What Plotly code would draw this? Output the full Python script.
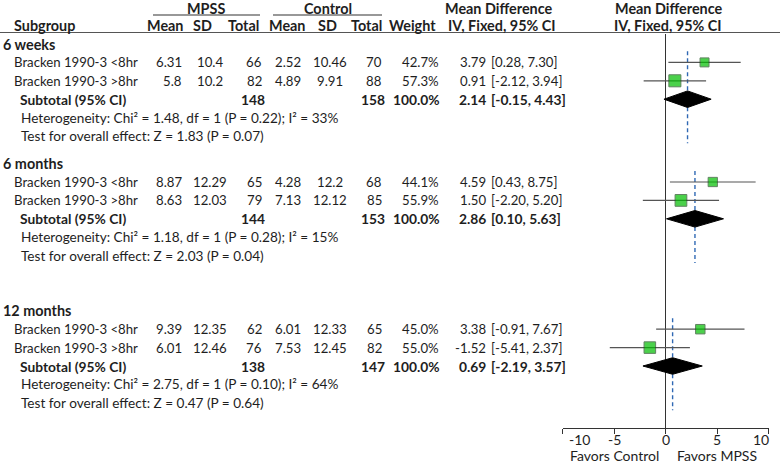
import plotly.graph_objects as go

# 数据
subgroups = ['6 weeks', '6 months', '12 months']
studies = ['Bracken 1990-3 <8hr', 'Bracken 1990-3 >8hr']
mpss_mean = [[6.31, 5.8], [8.87, 8.63], [9.39, 6.01]]
mpss_sd = [[10.4, 10.2], [12.29, 12.03], [12.35, 12.46]]
mpss_n = [[66, 82], [65, 79], [62, 76]]
ctrl_mean = [[2.52, 4.89], [4.28, 7.13], [6.01, 7.53]]
ctrl_sd = [[10.46, 9.91], [12.2, 12.12], [12.33, 12.45]]
ctrl_n = [[70, 88], [68, 85], [65, 82]]
weights = [[42.7, 57.3], [44.1, 55.9], [45.0, 55.0]]
md = [[3.79, 0.91], [4.59, 1.50], [3.38, -1.52]]
md_lo = [[0.28, -2.12], [0.43, -2.20], [-0.91, -5.41]]
md_hi = [[7.30, 3.94], [8.75, 5.20], [7.67, 2.37]]
sub_md = [2.14, 2.86, 0.69]
sub_lo = [-0.15, 0.10, -2.19]
sub_hi = [4.43, 5.63, 3.57]
chi2 = [1.48, 1.18, 2.75]
het_df = [1, 1, 1]
het_p = ['0.22', '0.28', '0.10']
i2 = [33, 15, 64]
z_val = [1.83, 2.03, 0.47]
z_p = ['0.07', '0.04', '0.64']
x_ticks = [-10, -5, 0, 5, 10]

# 布局
W, H = 780, 464
FONT = 'Lato'
TXT = '#1e1e1e'
FS = 13.2      # 正文
FSB = 13.8     # 粗体正文
FSH = 14.4     # 表头
group_start = [0, 6.5, 14.5]   # 每个亚组标题所在行
Y_TOP, Y_BOT = 34, 428          # 绘图区像素范围
ROW_PX, ROW0_PX = 18.4, 44


def px_to_row(p):
    return (p - ROW0_PX) / ROW_PX


def px(x):
    return x / W


fig = go.Figure()
ann = []


def text(x, y, s, anchor='left', bold=False, yref='y', size=FS):
    if bold:
        s = f'<b>{s}</b>'
    ann.append(dict(x=px(x), y=y, xref='paper', yref=yref, text=s, showarrow=False,
                    xanchor=anchor, yanchor='middle',
                    font=dict(family=FONT, size=size, color=TXT)))


# 表头
hy1, hy2 = 1 - 8 / H, 1 - 25 / H
text(206, hy1, 'MPSS', 'center', True, 'paper', FSH)
text(328, hy1, 'Control', 'center', True, 'paper', FSH)
text(499, hy1, 'Mean Difference', 'center', True, 'paper', FSH)
text(669, hy1, 'Mean Difference', 'center', True, 'paper', FSH)
text(12, hy2, 'Subgroup', 'left', True, 'paper', FSH)
text(185, hy2, 'Mean', 'right', True, 'paper', FSH)
text(214, hy2, 'SD', 'right', True, 'paper', FSH)
text(261, hy2, 'Total', 'right', True, 'paper', FSH)
text(307, hy2, 'Mean', 'right', True, 'paper', FSH)
text(339, hy2, 'SD', 'right', True, 'paper', FSH)
text(384, hy2, 'Total', 'right', True, 'paper', FSH)
text(438, hy2, 'Weight', 'right', True, 'paper', FSH)
text(502, hy2, 'IV, Fixed, 95% CI', 'center', True, 'paper', FSH)
text(668, hy2, 'IV, Fixed, 95% CI', 'center', True, 'paper', FSH)

shapes = [
    dict(type='line', xref='paper', yref='paper', x0=0, x1=1, y0=1 - 32.5 / H, y1=1 - 32.5 / H,
         line=dict(color='#555555', width=1.2)),
    dict(type='line', xref='paper', yref='paper', x0=px(153), x1=px(260), y0=1 - 15 / H, y1=1 - 15 / H,
         line=dict(color='#333333', width=1.2)),
    dict(type='line', xref='paper', yref='paper', x0=px(273), x1=px(382), y0=1 - 15 / H, y1=1 - 15 / H,
         line=dict(color='#333333', width=1.2)),
]

ci_x, ci_y = [], []
sq_x, sq_y, sq_s = [], [], []

for g, name in enumerate(subgroups):
    y0 = group_start[g]
    text(1, y0, name, 'left', True, size=FSH)
    for i, st in enumerate(studies):
        y = y0 + 1 + i
        text(12, y, st)
        text(184, y, str(mpss_mean[g][i]), 'right')
        text(210, y, str(mpss_sd[g][i]), 'center')
        text(264, y, str(mpss_n[g][i]), 'right')
        text(303, y, str(ctrl_mean[g][i]), 'right')
        text(330, y, str(ctrl_sd[g][i]), 'center')
        text(384, y, str(ctrl_n[g][i]), 'right')
        text(441, y, f'{weights[g][i]:.1f}%', 'right')
        text(488, y, f'{md[g][i]:.2f}', 'right')
        text(489, y, f'[{md_lo[g][i]:.2f}, {md_hi[g][i]:.2f}]', 'left')
        ci_x += [md_lo[g][i], md_hi[g][i], None]
        ci_y += [y, y, None]
        sq_x.append(md[g][i])
        sq_y.append(y)
        sq_s.append(weights[g][i] * 0.21)
    ys = y0 + 3
    text(18, ys, 'Subtotal (95% CI)', 'left', True, size=FSB)
    text(267, ys, str(sum(mpss_n[g])), 'right', True, size=FSB)
    text(387, ys, str(sum(ctrl_n[g])), 'right', True, size=FSB)
    text(442, ys, '100.0%', 'right', True, size=FSB)
    text(488, ys, f'{sub_md[g]:.2f}', 'right', True, size=FSB)
    text(489, ys, f'[{sub_lo[g]:.2f}, {sub_hi[g]:.2f}]', 'left', True, size=FSB)
    text(19, y0 + 4, f'Heterogeneity: Chi² = {chi2[g]:.2f}, df = {het_df[g]} (P = {het_p[g]}); I² = {i2[g]}%',
         size=13.6)
    text(19, y0 + 5, f'Test for overall effect: Z = {z_val[g]:.2f} (P = {z_p[g]})', size=13.6)

    # 合并效应虚线
    fig.add_trace(go.Scatter(x=[sub_md[g], sub_md[g]], y=[y0 + 0.4, y0 + 5.4], mode='lines',
                             line=dict(color='#2F68B4', width=1.4, dash='4px,3px'),
                             hoverinfo='skip', showlegend=False))
    # 菱形
    h = 0.45
    fig.add_trace(go.Scatter(x=[sub_lo[g], sub_md[g], sub_hi[g], sub_md[g], sub_lo[g]],
                             y=[ys, ys - h, ys, ys + h, ys], mode='lines', fill='toself',
                             fillcolor='black', line=dict(color='black', width=1),
                             hoverinfo='skip', showlegend=False))

fig.add_trace(go.Scatter(x=ci_x, y=ci_y, mode='lines', line=dict(color='#555555', width=1.2),
                         hoverinfo='skip', showlegend=False))
fig.add_trace(go.Scatter(x=sq_x, y=sq_y, mode='markers',
                         marker=dict(symbol='square', size=sq_s, color='#00BE00',
                                     line=dict(color='#1f4f1f', width=1)),
                         hoverinfo='skip', showlegend=False))

# 刻度标签与底部说明
for t in x_ticks:
    anchor, shift = 'center', 0
    if t == x_ticks[0]:
        anchor, shift = 'left', 4
    elif t == x_ticks[-1]:
        anchor, shift = 'right', 2
    ann.append(dict(x=t, y=1 - 439 / H, xref='x', yref='paper', text=str(t), showarrow=False,
                    xanchor=anchor, xshift=shift, yanchor='middle',
                    font=dict(family=FONT, size=14, color=TXT)))
ann.append(dict(x=-5, y=1 - 455 / H, xref='x', yref='paper', text='Favors Control', showarrow=False,
                xanchor='center', yanchor='middle', font=dict(family=FONT, size=14, color=TXT)))
ann.append(dict(x=5, y=1 - 455 / H, xref='x', yref='paper', text='Favors MPSS', showarrow=False,
                xanchor='center', yanchor='middle', font=dict(family=FONT, size=14, color=TXT)))

fig.update_layout(
    width=W, height=H,
    margin=dict(l=0, r=0, t=0, b=0),
    paper_bgcolor='white', plot_bgcolor='white',
    annotations=ann, shapes=shapes,
    xaxis=dict(domain=[px(562.5), px(768.5)], range=[-10, 10], tickvals=x_ticks,
               showticklabels=False, ticks='outside', ticklen=5, tickcolor='#333333',
               showline=True, linecolor='#333333', linewidth=1.2,
               showgrid=False, zeroline=True, zerolinecolor='#333333', zerolinewidth=1.2),
    yaxis=dict(domain=[1 - Y_BOT / H, 1 - Y_TOP / H],
               range=[px_to_row(Y_BOT), px_to_row(Y_TOP)],
               visible=False, showgrid=False, zeroline=False),
)

fig.write_html('out.html', config={'displayModeBar': False},
               post_script="document.body.style.margin='0';")
